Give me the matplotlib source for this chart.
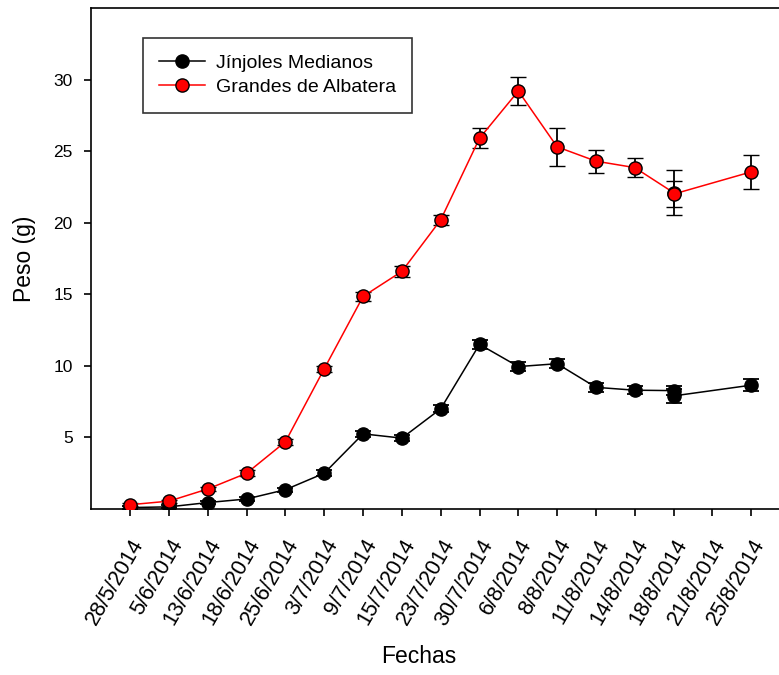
import matplotlib
matplotlib.use("Agg")
import matplotlib.pyplot as plt

plt.rcParams['font.family'] = ['Liberation Sans', 'DejaVu Sans']

fechas = ["28/5/2014", "5/6/2014", "13/6/2014", "18/6/2014", "25/6/2014",
          "3/7/2014", "9/7/2014", "15/7/2014", "23/7/2014", "30/7/2014",
          "6/8/2014", "8/8/2014", "11/8/2014", "14/8/2014", "18/8/2014",
          "21/8/2014", "25/8/2014"]

# x index of each measurement (18/8 measured twice, 21/8 missing)
x_med = [0, 1, 2, 3, 4, 5, 6, 7, 8, 9, 10, 11, 12, 13, 14, 14, 16]
medianos = [0.1, 0.15, 0.45, 0.7, 1.35, 2.5, 5.25, 4.95, 7.0, 11.5,
            9.95, 10.15, 8.5, 8.3, 8.27, 7.9, 8.65]
err_med = [0.1, 0.1, 0.1, 0.15, 0.15, 0.2, 0.2, 0.2, 0.25, 0.3,
           0.3, 0.3, 0.3, 0.3, 0.3, 0.5, 0.4]

x_gra = [0, 1, 2, 3, 4, 5, 6, 7, 8, 9, 10, 11, 12, 13, 14, 14, 16]
grandes = [0.3, 0.55, 1.4, 2.5, 4.7, 9.8, 14.85, 16.6, 20.2, 25.9,
           29.2, 25.3, 24.3, 23.85, 22.1, 22.0, 23.55]
err_gra = [0.1, 0.1, 0.15, 0.2, 0.2, 0.2, 0.3, 0.4, 0.35, 0.7,
           0.95, 1.33, 0.8, 0.65, 1.58, 0.93, 1.17]

W, H = 779, 675
fig = plt.figure(figsize=(W / 100, H / 100), dpi=100)
ax_l, ax_r, ax_t, ax_b = 91.4, 790.0, 8.0, 509.0
ax = fig.add_axes([ax_l / W, 1 - ax_b / H, (ax_r - ax_l) / W, (ax_b - ax_t) / H])

ax.errorbar(x_med, medianos, yerr=err_med, color='black', lw=1.1,
            marker='o', ms=9.5, mfc='black', mec='black', ecolor='black',
            elinewidth=1.3, capsize=5.8, capthick=1.3, label='Jínjoles Medianos', zorder=3)
ax.errorbar(x_gra, grandes, yerr=err_gra, color='red', lw=1.1,
            marker='o', ms=9.5, mfc='red', mec='black', mew=1.0, ecolor='black',
            elinewidth=1.3, capsize=5.8, capthick=1.3, label='Grandes de Albatera', zorder=4)

ax.set_xlim(-1, 17)
ax.set_ylim(0, 35)
ax.set_yticks([5, 10, 15, 20, 25, 30])
ax.set_xticks(range(len(fechas)))
ax.set_xticklabels(fechas, rotation=60, ha='right', rotation_mode='anchor', fontsize=15.5)
ax.tick_params(axis='both', direction='out', length=5, width=1.2)
ax.tick_params(axis='y', labelsize=12.5, pad=8.5)
ax.tick_params(axis='x', pad=14)
for s in ax.spines.values():
    s.set_linewidth(1.2)

ax.set_xlabel('Fechas', fontsize=16.5)
ax.set_ylabel('Peso (g)', fontsize=16.5)
ax.xaxis.set_label_coords((419 - ax_l) / (ax_r - ax_l), -(645 - ax_b) / (ax_b - ax_t))
ax.yaxis.set_label_coords(-(ax_l - 36) / (ax_r - ax_l), 0.5)

handles, labels = ax.get_legend_handles_labels()
handles = [h[0] for h in handles]
leg = ax.legend(handles, labels, loc='upper left',
                bbox_to_anchor=((142.7 - ax_l) / (ax_r - ax_l), (ax_b - 38) / (ax_b - ax_t)),
                borderaxespad=0, fontsize=14, frameon=True, fancybox=False,
                edgecolor='black', borderpad=0.85, handlelength=2.35,
                handletextpad=0.55, labelspacing=0.32)
leg.get_frame().set_linewidth(1.2)

fig.savefig('out.png', dpi=100)
